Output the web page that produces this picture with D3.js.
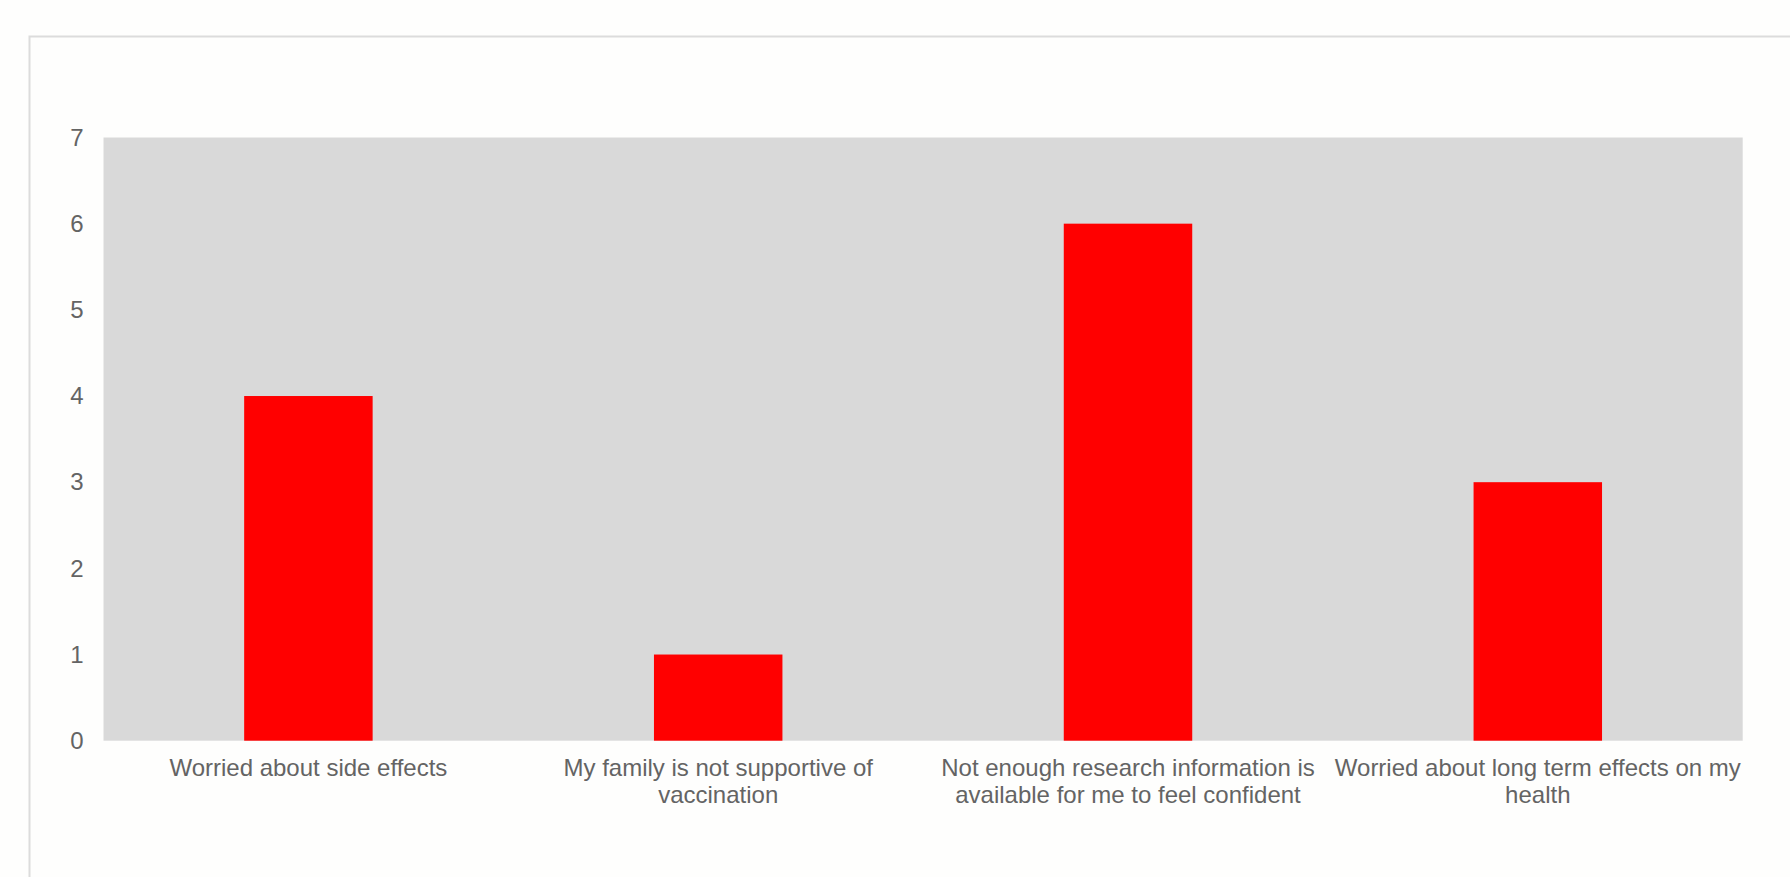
<!DOCTYPE html>
<html><head><meta charset="utf-8">
<script src="https://cdn.jsdelivr.net/npm/d3@7/dist/d3.min.js"></script>
<style>html,body{margin:0;padding:0;background:#fefefd;overflow:hidden}</style>
</head><body><svg id="c" width="1790" height="877"></svg>
<script>
const categories = ["Worried about side effects","My family is not supportive of vaccination","Not enough research information is available for me to feel confident","Worried about long term effects on my health"];
const labelLines = [["Worried about side effects"],["My family is not supportive of","vaccination"],["Not enough research information is","available for me to feel confident"],["Worried about long term effects on my","health"]];
const values = [4,1,6,3];
const yTicks = [0,1,2,3,4,5,6,7];

const svg = d3.select("#c");
svg.append("rect").attr("x",29.5).attr("y",36.5).attr("width",1800).attr("height",900)
  .attr("fill","#fefefd").attr("stroke","#dcdcdc").attr("stroke-width",2);

const L=103.5,R=1742.7,T=137.5,B=740.7;
const x = d3.scaleBand().domain(categories).range([L,R]).paddingInner(0).paddingOuter(0);
const y = d3.scaleLinear().domain([0,7]).range([B,T]);

svg.append("rect").attr("x",L).attr("y",T).attr("width",R-L).attr("height",B-T).attr("fill","#d9d9d9");

const bw = x.bandwidth()*0.3135;
svg.selectAll(".bar").data(values).join("rect").attr("class","bar")
  .attr("x",(d,i)=>x(categories[i])+x.bandwidth()/2-bw/2)
  .attr("y",d=>y(d)).attr("width",bw).attr("height",d=>y(0)-y(d))
  .attr("fill","#ff0000");

const font = "'Liberation Sans', Arial, sans-serif";
const col = "#646464";
const yAxis = svg.append("g").attr("transform",`translate(${L},0)`)
  .call(d3.axisLeft(y).tickValues(yTicks).tickSize(0).tickPadding(20).tickFormat(d3.format("d")));
yAxis.select(".domain").remove();
yAxis.selectAll("text").attr("fill",col).style("font-family",font).style("font-size","24px");

const xAxis = svg.append("g").attr("transform",`translate(0,${B})`)
  .call(d3.axisBottom(x).tickSize(0).tickFormat(""));
xAxis.select(".domain").remove();
xAxis.selectAll(".tick").each(function(d,i){
  const t = d3.select(this).append("text").attr("fill",col).attr("text-anchor","middle")
    .style("font-family",font).style("font-size","24px");
  labelLines[i].forEach((ln,j)=>{
    t.append("tspan").attr("x",0).attr("y",35.5+j*26.5).text(ln);
  });
});
</script></body></html>
